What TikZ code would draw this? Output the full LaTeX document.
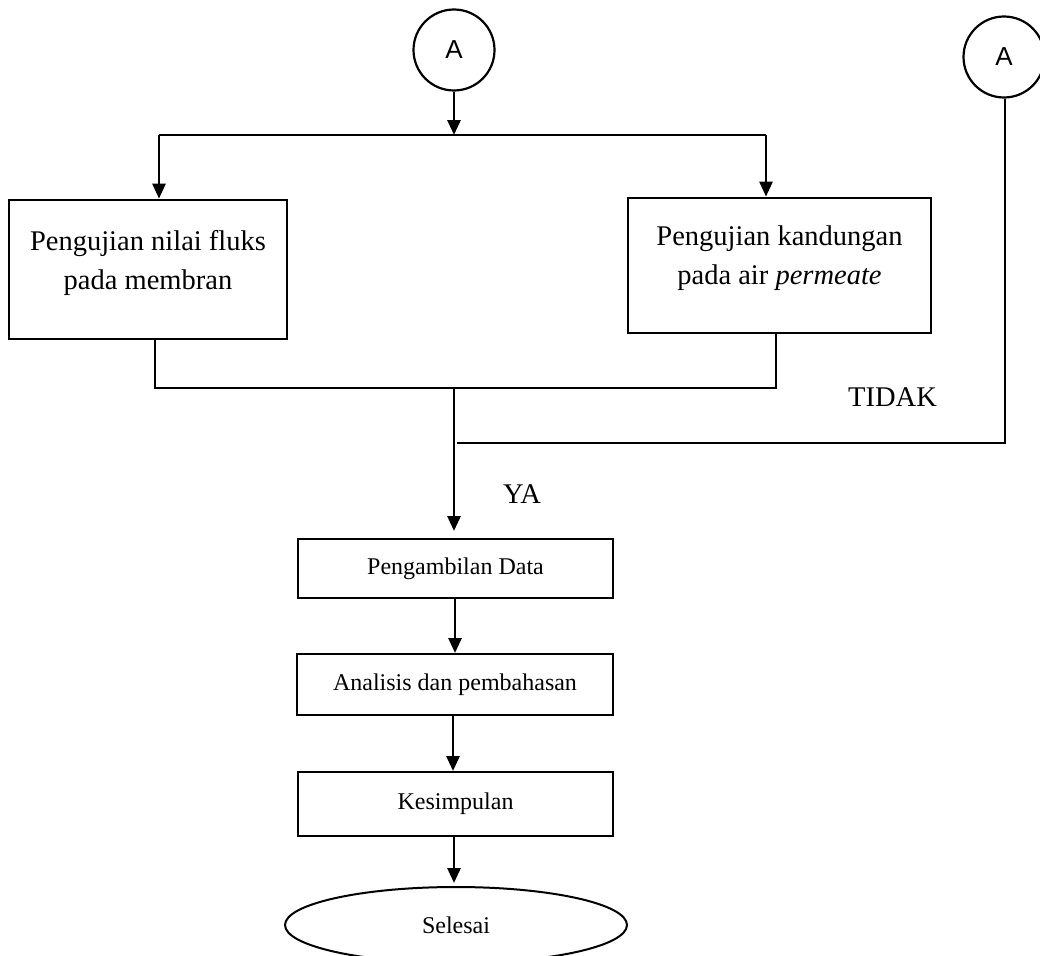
\documentclass[tikz,border=0pt]{standalone}
\usepackage{fontspec}
\setmainfont{Liberation Serif}
\newfontfamily\sansA{Liberation Sans}
\usetikzlibrary{arrows.meta,shapes.geometric}
\begin{document}
\begin{tikzpicture}[x=1pt,y=-1pt,
  bigbox/.style={draw,line width=2.8pt,minimum width=#1,inner sep=0pt},
  smallbox/.style={draw,line width=2pt,inner sep=0pt,font=\fontsize{24}{28}\selectfont},
  bigtext/.style={align=center,inner sep=0pt,font=\fontsize{28.5}{39}\selectfont},
  conn/.style={draw,circle,line width=2.2pt,minimum size=81pt,inner sep=0pt,font=\sansA\fontsize{26}{30}\selectfont},
  arr/.style={line width=2.8pt,-{Triangle[length=15pt,width=13pt]}},
  thin/.style={line width=1.6pt},
  lbl/.style={anchor=base,inner sep=0pt,font=\fontsize{28.5}{34}\selectfont}]
\useasboundingbox (0,0) rectangle (1040,955);
\fill[white] (0,0) rectangle (1040,955);

% connectors A
\node[conn] (A1) at (454,50) {A};
\node[conn] (A2) at (1004,57) {A};

% split
\coordinate (s1) at (454,135);
\coordinate (sL) at (159,135);
\coordinate (sR) at (766,135);
\draw[arr] (A1.south) -- (s1);
\draw[line width=2pt] (sL) -- (sR);

% big boxes
\node[bigbox=278pt,minimum height=139pt] (b1) at (148,269.5) {};
\node[bigtext] (t1) at (148,263) {Pengujian nilai fluks\\pada membran};
\node[bigbox=303pt,minimum height=135pt] (b2) at (779.5,265.5) {};
\node[bigtext] (t2) at (779.5,258) {Pengujian kandungan\\pada air \textit{permeate}};

\draw[arr] (sL) -- (sL |- b1.north);
\draw[arr] (sR) -- (sR |- b2.north);

% join
\coordinate (jL) at (155,388);
\coordinate (jR) at (776,388);
\coordinate (j) at (454,388);
\draw[thin] (jL |- b1.south) -- (jL) -- (jR) -- (jR |- b2.south);

% feedback
\coordinate (fR) at (1005,443);
\coordinate (fL) at (457,443);
\draw[thin] (A2.south -| fR) -- (fR) -- (fL);

% lower boxes
\node[smallbox,minimum width=315pt,minimum height=59pt] (pd) at (455.5,568.5) {Pengambilan Data};
\node[smallbox,minimum width=316pt,minimum height=61pt] (an) at (455,684.5) {Analisis dan pembahasan};
\node[smallbox,minimum width=315pt,minimum height=64pt] (ks) at (455.5,804) {Kesimpulan};
\node[draw,ellipse,line width=2pt,minimum width=342pt,minimum height=76pt,inner sep=0pt,font=\fontsize{24}{28}\selectfont] (end) at (456,925) {Selesai};

\draw[arr,shorten >=7pt] (j) -- (j |- pd.north);
\draw[arr] (pd.south -| 455,0) -- (an.north -| 455,0);
\draw[arr] (an.south -| 453,0) -- (ks.north -| 453,0);
\draw[arr,shorten >=3pt] (ks.south -| 454,0) -- (end.north -| 454,0);

% labels
\node[lbl] (tidak) at (892.5,406) {TIDAK};
\node[lbl] (ya) at (522,503) {YA};
\end{tikzpicture}
\end{document}
